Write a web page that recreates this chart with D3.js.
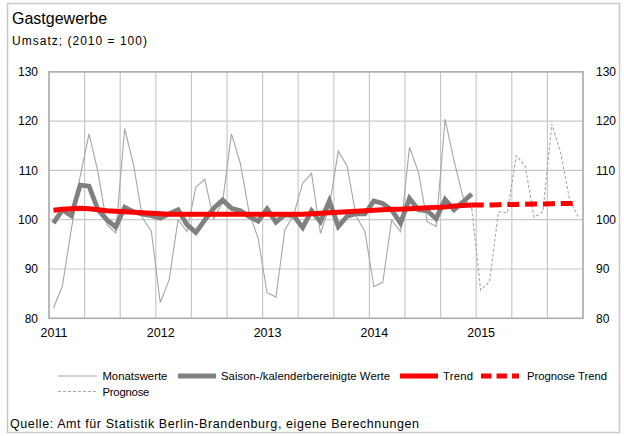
<!DOCTYPE html>
<html><head><meta charset="utf-8">
<script src="https://cdn.jsdelivr.net/npm/d3@7/dist/d3.min.js"></script>
<style>
body{margin:0;background:#fff}
svg{display:block}
text{font-family:"Liberation Sans",Arial,sans-serif;fill:#000}
</style>
</head><body>
<svg id="c" width="624" height="436"></svg>
<script>
// ---- data (month index 0 = Jan 2011) ----
const yearLabels = ["2011","2012","2013","2014","2015"];
const yTicks = [80, 90, 100, 110, 120, 130];
const monatswerte = [82.1,86.5,98.0,108.8,117.4,109.7,99.0,97.3,118.5,111.1,100.4,97.6,
  83.2,87.8,100.0,97.6,106.6,108.2,100.1,103.5,117.4,111.4,101.3,96.2,
  85.2,84.3,97.9,101.0,107.4,109.4,97.2,102.6,113.9,110.9,100.7,97.6,
  86.4,87.3,99.9,97.6,114.7,109.7,99.6,98.6,120.4,112.1,104.7,102.3];
const prognoseStart = 47;
const prognose = [102.3,85.7,87.4,101.6,101.4,113.0,110.9,100.5,101.6,119.4,113.5,104.0,100.5];
const saisonbereinigt = [99.3,102.0,100.8,107.0,106.8,102.0,100.0,98.5,102.5,101.6,101.1,100.8,
  100.3,101.2,102.0,99.0,97.4,99.9,102.3,104.0,102.3,101.8,100.6,99.7,
  102.2,99.5,101.0,100.8,98.4,101.8,99.6,103.8,98.6,100.7,101.2,101.2,
  103.8,103.3,102.0,99.3,104.3,102.0,101.8,100.2,104.1,102.0,103.6,105.2];
const trend = [101.9,102.1,102.2,102.3,102.2,102.0,101.8,101.7,101.6,101.5,101.4,101.3,
  101.2,101.1,101.1,101.1,101.1,101.1,101.1,101.1,101.1,101.1,101.1,101.1,
  101.1,101.1,101.1,101.1,101.1,101.2,101.3,101.4,101.5,101.6,101.7,101.8,
  101.9,102.0,102.1,102.1,102.2,102.3,102.4,102.5,102.6,102.8,102.9,103.0];
const prognoseTrend = [103.0,103.0,103.0,103.05,103.1,103.1,103.15,103.2,103.2,103.25,103.3,103.3,103.3];
const legendRow1 = ["Monatswerte","Saison-/kalenderbereinigte Werte","Trend","Prognose Trend"];
const legendRow2 = ["Prognose"];

// ---- layout ----
const svg = d3.select("#c");
const L = 49, R = 583, T = 71.8, B = 318.3;
const x = d3.scaleLinear().domain([0, 60]).range([L, R]);
const y = d3.scaleLinear().domain([80, 130]).range([B, T]);

// outer frame
svg.append("rect").attr("x",7.5).attr("y",3.5).attr("width",612).attr("height",429)
  .attr("fill","none").attr("stroke","#c8c8c8").attr("stroke-width",1.5);

// title
svg.append("text").attr("x",12).attr("y",24).attr("font-size",16).text("Gastgewerbe");
svg.append("text").attr("x",12).attr("y",45).attr("font-size",12)
  .attr("textLength",135).attr("lengthAdjust","spacing").text("Umsatz; (2010 = 100)");

// grid
const g = svg.append("g");
g.selectAll("line.h").data(yTicks).join("line")
  .attr("x1",L).attr("x2",R).attr("y1",d=>y(d)).attr("y2",d=>y(d))
  .attr("stroke","#c8c8c8").attr("stroke-width",1.2);
g.selectAll("line.v").data(d3.range(0,61,4)).join("line")
  .attr("x1",d=>x(d)).attr("x2",d=>x(d)).attr("y1",T).attr("y2",B)
  .attr("stroke","#c8c8c8").attr("stroke-width",1.2);
g.append("rect").attr("x",L).attr("y",T).attr("width",R-L).attr("height",B-T)
  .attr("fill","none").attr("stroke","#b0b0b0").attr("stroke-width",1.6);

// axes labels
const ff = "Liberation Sans, Arial, sans-serif";
const yl = d3.axisLeft(y).tickValues(yTicks).tickSize(0).tickPadding(11);
svg.append("g").attr("transform",`translate(${L},0)`).call(yl)
  .call(s=>s.select(".domain").remove())
  .selectAll("text").attr("font-size",12).attr("font-family",ff);
const yr = d3.axisRight(y).tickValues(yTicks).tickSize(0).tickPadding(13);
svg.append("g").attr("transform",`translate(${R},0)`).call(yr)
  .call(s=>s.select(".domain").remove())
  .selectAll("text").attr("font-size",12).attr("font-family",ff);
const xa = d3.axisBottom(x).tickValues(yearLabels.map((_,i)=>i*12+0.5))
  .tickFormat((d,i)=>yearLabels[i]).tickSize(0).tickPadding(10);
svg.append("g").attr("transform",`translate(0,${B})`).call(xa)
  .call(s=>s.select(".domain").remove())
  .selectAll("text").attr("font-size",12.5).attr("font-family",ff);

// lines
const line = d3.line().x(d=>x(d.i+0.5)).y(d=>y(d.v));
const mk = (arr, start=0) => arr.map((v,k)=>({i:k+start, v}));

svg.append("path").datum(mk(monatswerte)).attr("d",line)
  .attr("fill","none").attr("stroke","#a6a6a6").attr("stroke-width",1.1);
svg.append("path").datum(mk(prognose, prognoseStart)).attr("d",line)
  .attr("fill","none").attr("stroke","#a6a6a6").attr("stroke-width",1.1).attr("stroke-dasharray","3,2");
svg.append("path").datum(mk(saisonbereinigt)).attr("d",line)
  .attr("fill","none").attr("stroke","#808080").attr("stroke-width",4.8).attr("stroke-linejoin","miter");
svg.append("path").datum(mk(trend)).attr("d",line)
  .attr("fill","none").attr("stroke","#ff0000").attr("stroke-width",5).attr("stroke-linejoin","round");
svg.append("path").datum(mk(prognoseTrend, prognoseStart)).attr("d",line)
  .attr("fill","none").attr("stroke","#ff0000").attr("stroke-width",5).attr("stroke-dasharray","12,5.8");

// legend
const lg = svg.append("g");
const ly1 = 376, ly2 = 391.5;
const items = [
  {x1:58,x2:97,tx:102.4,stroke:"#a6a6a6",w:1.1,dash:null,label:legendRow1[0],y:ly1,len:65},
  {x1:178,x2:216,tx:221,stroke:"#808080",w:4.8,dash:null,label:legendRow1[1],y:ly1,len:169},
  {x1:400,x2:438,tx:443,stroke:"#ff0000",w:5,dash:null,label:legendRow1[2],y:ly1,len:30},
  {x1:481,x2:519,tx:527,stroke:"#ff0000",w:5,dash:"10.5,5",label:legendRow1[3],y:ly1,len:80},
  {x1:58,x2:97,tx:102.4,stroke:"#a6a6a6",w:1.1,dash:"3,2",label:legendRow2[0],y:ly2,len:47}
];
items.forEach(it=>{
  lg.append("line").attr("x1",it.x1).attr("x2",it.x2).attr("y1",it.y).attr("y2",it.y)
    .attr("stroke",it.stroke).attr("stroke-width",it.w).attr("stroke-dasharray",it.dash);
  lg.append("text").attr("x",it.tx).attr("y",it.y+4).attr("font-size",11.3)
    .attr("textLength",it.len).attr("lengthAdjust","spacing").text(it.label);
});

svg.append("text").attr("x",10).attr("y",428).attr("font-size",12.5)
  .attr("textLength",409).attr("lengthAdjust","spacing")
  .text("Quelle: Amt für Statistik Berlin-Brandenburg, eigene Berechnungen");
</script>
</body></html>
